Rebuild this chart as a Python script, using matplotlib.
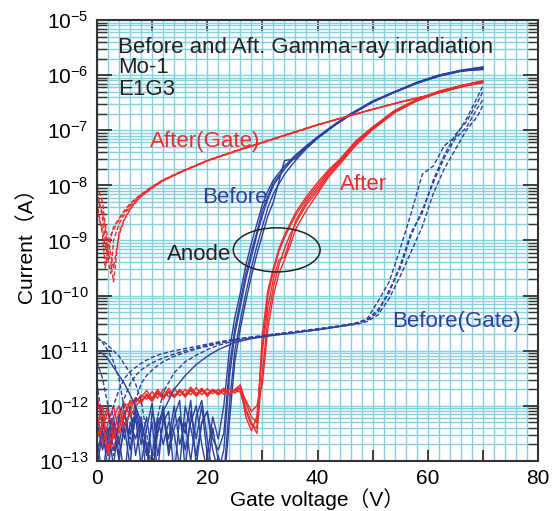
import numpy as np
import matplotlib
matplotlib.use("Agg")
import matplotlib.pyplot as plt
from matplotlib.ticker import MultipleLocator, FuncFormatter, NullFormatter, FixedLocator
from matplotlib.patches import Ellipse

plt.rcParams['font.family'] = ['Liberation Sans', 'Noto Sans CJK JP', 'DejaVu Sans']
plt.rcParams['mathtext.fontset'] = 'custom'
plt.rcParams['mathtext.rm'] = 'Liberation Sans'
plt.rcParams['mathtext.it'] = 'Liberation Sans:italic'
plt.rcParams['mathtext.bf'] = 'Liberation Sans:bold'

RED = '#ee2b2b'
BLUE = '#2e3f9c'
GRID = '#86d0e0'

# ---------------- data (log10 of current in A) ----------------
# Before irradiation, anode current (solid blue)
noise_V = list(range(0, 23))
before_noise_1 = [-12.3, -12.8, -12.4, -13.1, -12.2, -12.6, -12.0, -12.9, -12.3, -13.3, -12.1, -12.5, -12.0, -12.8, -12.2, -11.9, -13.2, -12.1, -12.6, -12.0, -12.9, -12.2, -12.6]
before_noise_2 = [-12.9, -12.4, -13.2, -12.3, -12.7, -12.1, -12.8, -12.2, -13.1, -12.4, -11.95, -12.9, -12.3, -12.1, -13.3, -12.2, -12.5, -11.9, -13.1, -12.3, -12.1, -12.8, -13.2]
before_noise_3 = [-12.6, -13.3, -12.5, -12.2, -12.9, -12.4, -13.1, -12.0, -12.5, -12.9, -12.3, -13.2, -12.2, -12.6, -12.0, -12.7, -12.3, -13.0, -12.2, -11.9, -12.6, -13.3, -12.9]
before_noise_4 = [-12.2, -12.6, -12.9, -12.4, -13.0, -12.3, -12.5, -12.1, -12.7, -12.2, -12.9, -12.2, -12.7, -12.3, -12.5, -13.1, -12.0, -12.4, -12.9, -12.3, -12.1, -12.6, -12.8]
before_noise_5 = [-13.1, -12.5, -12.7, -12.3, -12.6, -13.3, -12.3, -12.6, -12.2, -12.8, -13.4, -12.3, -12.1, -12.9, -12.4, -12.2, -12.8, -12.3, -12.0, -12.7, -13.2, -12.4, -13.0]

rise_V = [23, 24, 25, 26, 27, 28, 29, 30, 31, 32, 34, 36, 38, 40, 43, 46, 50, 54, 58, 62, 66, 70]
before_rise_1 = [-12.0, -11.0, -10.4, -9.95, -9.45, -9.05, -8.7, -8.35, -8.1, -7.9, -7.65, -7.45, -7.28, -7.12, -6.9, -6.7, -6.47, -6.3, -6.13, -6.0, -5.92, -5.86]
before_rise_2 = [-12.8, -11.5, -10.7, -10.2, -9.7, -9.3, -8.9, -8.55, -8.25, -8.0, -7.7, -7.48, -7.3, -7.13, -6.9, -6.71, -6.48, -6.3, -6.14, -6.0, -5.91, -5.85]
before_rise_3 = [-13.3, -12.0, -11.0, -10.45, -9.95, -9.5, -9.1, -8.75, -8.4, -8.15, -7.8, -7.55, -7.33, -7.15, -6.92, -6.72, -6.49, -6.31, -6.15, -6.02, -5.93, -5.88]
before_rise_4 = [-12.5, -11.3, -10.6, -10.1, -9.6, -9.2, -8.85, -8.45, -8.2, -7.95, -7.7, -7.47, -7.29, -7.13, -6.91, -6.71, -6.48, -6.31, -6.14, -6.01, -5.92, -5.9]
before_rise_5 = [-13.5, -12.3, -11.2, -10.6, -10.1, -9.65, -9.25, -8.9, -8.55, -8.3, -7.55, -7.52, -7.32, -7.14, -6.92, -6.72, -6.49, -6.31, -6.15, -6.02, -5.93, -5.89]

# After irradiation, anode current (solid red)
noise_V_r = list(range(0, 29))
after_noise_1 = [-11.8, -12.4, -12.1, -12.6, -12.3, -12.0, -11.95, -11.9, -11.85, -11.72, -11.86, -11.7, -11.84, -11.68, -11.82, -11.7, -11.8, -11.66, -11.78, -11.68, -11.8, -11.7, -11.76, -11.68, -11.78, -11.7, -11.62, -11.95, -12.2]
after_noise_2 = [-12.1, -12.7, -12.3, -12.0, -12.5, -12.2, -11.9, -11.95, -11.8, -11.88, -11.74, -11.86, -11.7, -11.84, -11.68, -11.82, -11.7, -11.8, -11.67, -11.8, -11.69, -11.78, -11.7, -11.79, -11.69, -11.77, -11.68, -12.05, -12.3]
after_noise_3 = [-12.4, -12.0, -12.8, -12.2, -12.0, -12.4, -12.1, -11.85, -11.95, -11.8, -11.9, -11.76, -11.88, -11.74, -11.85, -11.72, -11.84, -11.72, -11.82, -11.7, -11.83, -11.72, -11.8, -11.71, -11.8, -11.72, -11.66, -12.2, -12.45]
after_noise_4 = [-11.9, -12.2, -12.9, -12.5, -12.1, -11.95, -12.2, -12.0, -11.9, -11.82, -11.92, -11.78, -11.86, -11.76, -11.84, -11.74, -11.83, -11.72, -11.82, -11.73, -11.8, -11.72, -11.8, -11.73, -11.79, -11.72, -11.7, -11.9, -12.1]
after_noise_5 = [-12.6, -12.3, -12.0, -12.8, -12.4, -12.1, -12.0, -11.85, -11.92, -11.78, -11.88, -11.74, -11.87, -11.73, -11.83, -11.71, -11.82, -11.7, -11.8, -11.7, -11.78, -11.71, -11.77, -11.7, -11.78, -11.72, -11.75, -12.1, -12.35]

rise_V_r = [29, 30, 31, 32, 33, 34, 35, 36, 38, 40, 42, 44, 47, 50, 54, 58, 62, 66, 70]
after_rise_1 = [-12.3, -10.9, -10.0, -9.55, -9.2, -8.95, -8.75, -8.55, -8.25, -8.0, -7.75, -7.55, -7.2, -6.95, -6.65, -6.45, -6.3, -6.2, -6.12]
after_rise_2 = [-12.5, -11.4, -10.4, -9.85, -9.45, -9.15, -8.9, -8.7, -8.35, -8.1, -7.82, -7.6, -7.25, -6.98, -6.67, -6.46, -6.31, -6.2, -6.13]
after_rise_3 = [-12.2, -11.0, -10.2, -9.7, -9.35, -9.3, -9.0, -8.65, -8.3, -8.05, -7.78, -7.57, -7.22, -6.96, -6.66, -6.46, -6.3, -6.19, -6.11]
after_rise_4 = [-12.0, -11.6, -10.6, -10.0, -9.6, -9.35, -9.1, -8.8, -8.45, -8.15, -7.85, -7.62, -7.27, -6.99, -6.68, -6.47, -6.32, -6.21, -6.14]
after_rise_5 = [-12.4, -10.7, -9.9, -9.5, -9.15, -8.9, -8.7, -8.5, -8.2, -7.95, -7.72, -7.53, -7.19, -6.94, -6.64, -6.44, -6.29, -6.19, -6.1]

# After irradiation, gate current (dashed red)
ag_V = [0, 1, 1.5, 2, 2.5, 3, 4, 5, 6, 7, 8, 10, 12, 15, 20, 25, 30, 35, 40, 45, 50, 55, 60, 65, 70]
after_gate_1 = [-8.1, -8.6, -9.0, -9.35, -8.95, -8.75, -8.6, -8.45, -8.33, -8.24, -8.16, -8.02, -7.9, -7.76, -7.55, -7.38, -7.22, -7.06, -6.9, -6.76, -6.62, -6.49, -6.37, -6.24, -6.12]
after_gate_2 = [-8.3, -8.9, -9.5, -9.1, -8.9, -8.8, -8.62, -8.48, -8.36, -8.26, -8.17, -8.03, -7.9, -7.76, -7.55, -7.38, -7.22, -7.06, -6.9, -6.76, -6.62, -6.49, -6.37, -6.24, -6.12]
after_gate_3 = [-8.5, -8.8, -9.1, -9.35, -9.6, -9.0, -8.7, -8.52, -8.38, -8.27, -8.18, -8.03, -7.91, -7.77, -7.55, -7.38, -7.22, -7.06, -6.9, -6.76, -6.62, -6.49, -6.37, -6.24, -6.12]
after_gate_4 = [-8.2, -8.5, -8.8, -9.2, -9.4, -9.75, -8.85, -8.6, -8.42, -8.3, -8.2, -8.05, -7.92, -7.77, -7.56, -7.39, -7.23, -7.07, -6.91, -6.76, -6.62, -6.49, -6.37, -6.24, -6.12]
after_gate_5 = [-8.0, -8.3, -8.7, -9.0, -9.25, -9.5, -8.9, -8.62, -8.44, -8.31, -8.2, -8.04, -7.91, -7.77, -7.55, -7.38, -7.22, -7.06, -6.9, -6.76, -6.62, -6.49, -6.37, -6.24, -6.12]

# Before irradiation, gate current (dashed blue, one solid)
bg_V = [0, 1, 2, 3, 4, 5, 6, 7, 8, 9, 10, 11, 12, 14, 16, 18, 20, 22, 25, 28, 32, 36, 40, 44, 47, 49, 51, 53, 55, 57, 59, 61, 63, 65, 67, 69, 70]
before_gate_1 = [-11.2, -11.5, -12.0, -12.9, -12.2, -11.85, -11.6, -11.45, -11.35, -11.28, -11.22, -11.17, -11.13, -11.06, -11.0, -10.95, -10.9, -10.86, -10.8, -10.76, -10.71, -10.67, -10.62, -10.56, -10.5, -10.42, -10.1, -9.75, -9.15, -8.5, -7.8, -7.65, -7.28, -7.12, -6.8, -6.4, -6.2]
before_gate_2 = [-10.75, -10.85, -11.0, -11.2, -11.5, -12.1, -12.6, -11.9, -11.6, -11.45, -11.35, -11.27, -11.2, -11.1, -11.03, -10.97, -10.92, -10.87, -10.8, -10.76, -10.7, -10.66, -10.61, -10.55, -10.5, -10.45, -10.3, -9.9, -9.5, -8.9, -8.45, -7.95, -7.5, -7.15, -6.95, -6.6, -6.45]
before_gate_3 = [-10.8, -10.82, -10.9, -11.0, -11.1, -11.25, -11.4, -11.6, -11.9, -12.5, -13.2, -12.2, -11.75, -11.4, -11.2, -11.08, -10.98, -10.9, -10.82, -10.77, -10.72, -10.67, -10.62, -10.56, -10.52, -10.47, -10.35, -10.05, -9.65, -9.2, -8.75, -8.15, -7.7, -7.35, -7.0, -6.75, -6.55]
before_gate_4 = [-11.6, -12.3, -12.6, -12.0, -11.7, -11.5, -11.38, -11.3, -11.23, -11.17, -11.12, -11.08, -11.05, -11.0, -10.96, -10.92, -10.88, -10.84, -10.79, -10.75, -10.7, -10.65, -10.6, -10.55, -10.5, -10.44, -10.25, -9.95, -9.45, -8.85, -8.5, -7.9, -7.45, -7.08, -6.85, -6.5, -6.3]
bg_V_solid = [0, 1, 2, 3, 4, 5, 6, 7, 8, 9, 10, 11, 12, 14, 16, 18, 20, 22, 25, 28, 32, 36, 40, 44, 47]
before_gate_solid = [-11.0, -11.05, -11.15, -11.3, -11.45, -11.6, -11.8, -12.0, -12.3, -12.7, -13.3, -12.5, -12.1, -11.7, -11.45, -11.25, -11.1, -10.98, -10.85, -10.78, -10.72, -10.67, -10.62, -10.56, -10.51]

title_lines = ["Before and Aft. Gamma-ray irradiation", "Mo-1", "E1G3"]
x_ticks = [0, 10, 20, 30, 40, 50, 60, 70, 80]
y_exps = [-13, -12, -11, -10, -9, -8, -7, -6, -5]

# ---------------- figure ----------------
fig = plt.figure(figsize=(5.6, 5.11), dpi=100)
ax = fig.add_axes([97/560, 1-461/511, 441/560, 441/511])
ax.set_yscale('log')
ax.set_xlim(0, 80)
ax.set_ylim(1e-13, 1e-5)

def p(v, lg, **kw):
    ax.plot(v, 10.0**np.asarray(lg), **kw)

lw = 1.0
dash = dict(linestyle=(0, (3.2, 1.6)))
for bn, br in [(before_noise_1, before_rise_1), (before_noise_2, before_rise_2),
               (before_noise_3, before_rise_3), (before_noise_4, before_rise_4),
               (before_noise_5, before_rise_5)]:
    p(noise_V + rise_V, bn + br, color=BLUE, lw=lw)
for an, ar in [(after_noise_1, after_rise_1), (after_noise_2, after_rise_2),
               (after_noise_3, after_rise_3), (after_noise_4, after_rise_4),
               (after_noise_5, after_rise_5)]:
    p(noise_V_r + rise_V_r, an + ar, color=RED, lw=lw)
for g in [after_gate_1, after_gate_2, after_gate_3, after_gate_4, after_gate_5]:
    p(ag_V, g, color=RED, lw=lw, **dash)
for g in [before_gate_1, before_gate_2, before_gate_3, before_gate_4]:
    p(bg_V, g, color=BLUE, lw=lw, **dash)
p(bg_V_solid, before_gate_solid, color=BLUE, lw=lw)

# ticks and grid (kept strictly inside the view range)
y_major = [10.0**e for e in y_exps]
y_minor = [m * 10.0**e for e in y_exps[:-1] for m in range(2, 10)]
ax.xaxis.set_major_locator(FixedLocator(x_ticks))
ax.xaxis.set_minor_locator(FixedLocator(list(range(2, 80, 2))))
ax.yaxis.set_major_locator(FixedLocator(y_major))
ax.yaxis.set_minor_locator(FixedLocator(y_minor))
ax.xaxis.set_minor_formatter(NullFormatter())
ax.yaxis.set_minor_formatter(NullFormatter())
ax.set_axisbelow(True)
ax.grid(True, which='both', color=GRID, lw=1.0)

ax.xaxis.set_major_formatter(FuncFormatter(lambda v, pos: f"{int(round(v))}" if int(round(v)) % 20 == 0 else ""))
ax.yaxis.set_major_formatter(FuncFormatter(lambda v, pos: r"$\mathregular{10^{%d}}$" % int(round(np.log10(v)))))

ax.tick_params(axis='x', which='major', direction='in', length=8, width=1.3, top=True, bottom=True,
               labelsize=15, pad=6, color='#333333')
ax.tick_params(axis='x', which='minor', length=0, top=True, bottom=True)
ax.tick_params(axis='y', which='major', direction='in', length=11, width=1.3, left=True, right=True,
               labelsize=15, pad=6, color='#333333')
ax.tick_params(axis='y', which='minor', direction='in', length=7, width=1.0, left=True, right=True,
               color='#333333')
for s in ax.spines.values():
    s.set_color('#333333')
    s.set_linewidth(1.5)

ax.set_xlabel("Gate voltage（V）", fontsize=15, labelpad=0)
ax.set_ylabel("Current（A）", fontsize=15, labelpad=2)

# annotations
ax.text(3.8, 10**-5.6, title_lines[0], fontsize=16, color='#222222', va='baseline')
ax.text(3.8, 10**-5.97, title_lines[1], fontsize=16, color='#222222', va='baseline')
ax.text(3.8, 10**-6.36, title_lines[2], fontsize=16, color='#222222', va='baseline')
ax.text(9.6, 10**-7.3, "After(Gate)", fontsize=16, color=RED, va='baseline')
ax.text(19.0, 10**-8.32, "Before", fontsize=16, color=BLUE, va='baseline')
ax.text(44.1, 10**-8.09, "After", fontsize=16, color=RED, va='baseline')
ax.text(53.5, 10**-10.57, "Before(Gate)", fontsize=16, color=BLUE, va='baseline')
ax.text(24.3, 10**-9.36, "Anode", fontsize=16, color='#222222', va='baseline', ha='right')

cen = ax.transAxes.inverted().transform(ax.transData.transform((32.6, 10**-9.17)))
ax.add_patch(Ellipse(cen, 0.197, 0.10, transform=ax.transAxes, fill=False,
                     edgecolor='#222222', lw=1.1, zorder=5))

fig.savefig("out.png", dpi=100)
